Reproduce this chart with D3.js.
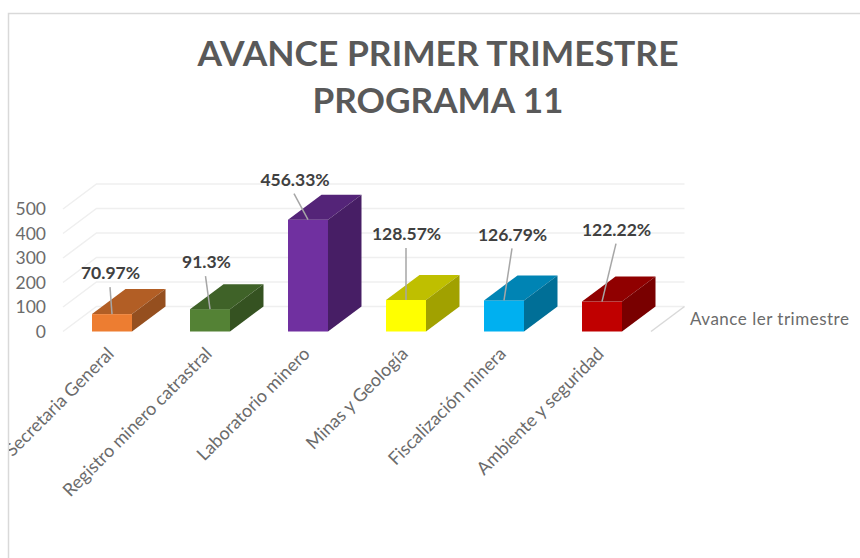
<!DOCTYPE html>
<html lang="en">
<head>
    <meta charset="utf-8">
    <title>Avance primer trimestre</title>
    <script src="https://d3js.org/d3.v7.min.js"></script>
    <style>
        html, body { margin: 0; padding: 0; background: #fff; }
        svg { display: block; }
        text { font-family: Lato, "Open Sans", sans-serif; }
    </style>
</head>
<body>
  <svg width="860" height="558"></svg>
    <script>
        const categories = ["Secretaria General", "Registro minero catrastral", "Laboratorio minero", "Minas y Geología", "Fiscalización minera", "Ambiente y seguridad"];
        const values = [70.97, 91.3, 456.33, 128.57, 126.79, 122.22];
        const valueLabels = ["70.97%", "91.3%", "456.33%", "128.57%", "126.79%", "122.22%"];
        const barColors = ["#ED7D31", "#548235", "#7030A0", "#FFFF00", "#00B0F0", "#C00000"];
        const yTicks = [0, 100, 200, 300, 400, 500];
        const seriesName = "Avance ler trimestre";
        const titleLines = ["AVANCE PRIMER TRIMESTRE", "PROGRAMA 11"];

        // 3d look: how far the depth of the chart goes
        const depthX = 33.5, depthY = -25;
        // where each data label sits, relative to the top of its bar
        const labelDx = [-1.5, -3.5, -13, 0.5, 8.5, 14.5];
        const labelDy = [-41, -47, -40, -66, -66, -72];
        const leaderDx = [-2, -4.5, -14, 0, 8, 14];
        const leaderDy = [-27, -33, -26, -52, -52, -58];
        // title stretched a bit, the original is wider than Lato
        const titleWidths = [481, 251];

        const svg = d3.select("svg");
        const x = d3.scaleBand().domain(categories).range([63, 651]).paddingInner(0.592).paddingOuter(0.296);
        const y = d3.scaleLinear().domain([0, 500]).range([331.5, 209]);

        // frame, only top and left are visible
        svg.append("path")
           .attr("d", "M8.5,558V13.5H860")
           .attr("fill", "none")
           .attr("stroke", "#d9d9d9")
           .attr("stroke-width", 1.5);

        svg.append("clipPath").attr("id", "inside")
           .append("rect").attr("x", 9).attr("y", 14).attr("width", 851).attr("height", 544);

        // title
        svg.selectAll(".title")
           .data(titleLines)
           .enter()
           .append("text")
           .attr("class", "title")
           .attr("x", 438)
           .attr("y", (d, i) => 66 + i * 46.5)
           .attr("text-anchor", "middle")
           .attr("font-size", 34)
           .attr("font-weight", 700)
           .attr("fill", "#595959")
           .attr("textLength", (d, i) => titleWidths[i])
           .attr("lengthAdjust", "spacingAndGlyphs")
           .text(d => d);

        // back wall and floor lines
        const grid = svg.append("g").attr("fill", "none").attr("stroke", "#efefef").attr("stroke-width", 1.5);
        grid.selectAll("path")
           .data(yTicks)
           .enter()
           .append("path")
           .attr("d", d => d3.line()([
               [x.range()[0], y(d)],
               [x.range()[0] + depthX, y(d) + depthY],
               [x.range()[1] + depthX, y(d) + depthY]
           ]));
        grid.append("line")
           .attr("x1", x.range()[1]).attr("y1", y(0))
           .attr("x2", x.range()[1] + depthX).attr("y2", y(0) + depthY)
           .attr("stroke", "#d9d9d9");

        // y axis
        const yAxis = svg.append("g")
           .attr("transform", "translate(46,0)")
           .call(d3.axisLeft(y).tickValues(yTicks).tickSize(0).tickPadding(0));
        yAxis.select(".domain").remove();
        yAxis.selectAll("text")
           .attr("font-family", "Lato")
           .attr("font-size", 17.5)
           .attr("fill", "#6b6b6b");

        // bars: front, top and side faces
        const shade = (c, k) => {
            const r = d3.rgb(c);
            return d3.rgb(r.r * k, r.g * k, r.b * k).formatHex();
        };
        const bars = svg.selectAll(".bar")
           .data(categories)
           .enter()
           .append("g")
           .attr("class", "bar");
        bars.append("rect")
           .attr("x", d => x(d))
           .attr("y", (d, i) => y(values[i]))
           .attr("width", x.bandwidth())
           .attr("height", (d, i) => y(0) - y(values[i]))
           .attr("fill", (d, i) => barColors[i]);
        bars.append("path")
           .attr("d", (d, i) => {
               const l = x(d), r = l + x.bandwidth(), t = y(values[i]);
               return d3.line()([[l, t], [l + depthX, t + depthY], [r + depthX, t + depthY], [r, t]]) + "Z";
           })
           .attr("fill", (d, i) => shade(barColors[i], 0.75));
        bars.append("path")
           .attr("d", (d, i) => {
               const r = x(d) + x.bandwidth(), t = y(values[i]), b = y(0);
               return d3.line()([[r, t], [r + depthX, t + depthY], [r + depthX, b + depthY], [r, b]]) + "Z";
           })
           .attr("fill", (d, i) => shade(barColors[i], 0.63));

        // leader lines and data labels
        bars.append("line")
           .attr("x1", d => x(d) + x.bandwidth() / 2)
           .attr("y1", (d, i) => y(values[i]))
           .attr("x2", (d, i) => x(d) + x.bandwidth() / 2 + leaderDx[i])
           .attr("y2", (d, i) => y(values[i]) + leaderDy[i])
           .attr("stroke", "#a6a6a6")
           .attr("stroke-width", 1.5);
        bars.append("text")
           .attr("x", (d, i) => x(d) + x.bandwidth() / 2 + labelDx[i])
           .attr("y", (d, i) => y(values[i]) + labelDy[i])
           .attr("dy", "0.35em")
           .attr("text-anchor", "middle")
           .attr("font-size", 17.5)
           .attr("font-weight", 700)
           .attr("fill", "#404040")
           .text((d, i) => valueLabels[i]);

        // category labels, the first one runs into the frame and gets cut
        svg.append("g")
           .attr("clip-path", "url(#inside)")
           .selectAll("text")
           .data(categories)
           .enter()
           .append("text")
           .attr("transform", d => `translate(${x(d) + x.bandwidth() / 2 + 3},355) rotate(-45)`)
           .attr("text-anchor", "end")
           .attr("font-size", 18)
           .attr("fill", "#6b6b6b")
           .text(d => d);

        // series name at the depth axis
        svg.append("text")
           .attr("x", 690)
           .attr("y", 325)
           .attr("font-size", 17)
           .attr("letter-spacing", 0.5)
           .attr("fill", "#6b6b6b")
           .text(seriesName);
    </script>
</body>
</html>
